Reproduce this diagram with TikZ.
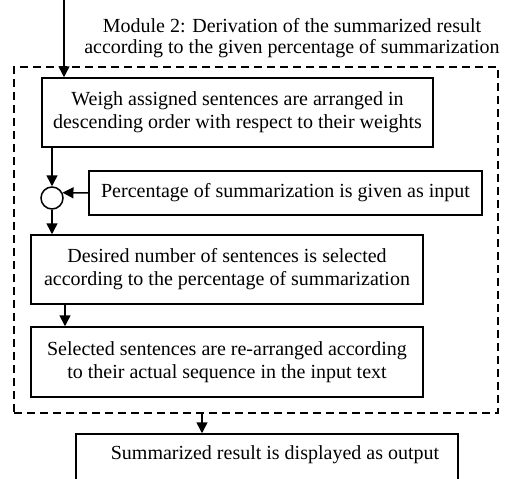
\documentclass[tikz,border=0pt]{standalone}
\usepackage{fontspec}
\setmainfont{Liberation Serif}
\usetikzlibrary{arrows.meta}

\tikzset{
  stepbox/.style={draw, line width=1.5pt, align=center, inner sep=0pt,
    font=\fontsize{20}{23}\selectfont},
  modframe/.style={draw, line width=1.3pt, dash pattern=on 8pt off 5pt, inner sep=0pt},
  joint/.style={draw, circle, line width=1.5pt, minimum size=22pt, inner sep=0pt},
}

\begin{document}
\begin{tikzpicture}[x=1pt, y=-1pt, >={Triangle[length=11pt, width=11pt]}, line width=1.5pt]
  \useasboundingbox (0,0) rectangle (506,479);
  \clip (0,0) rectangle (506,479);

  % module frame and its title
  \node[modframe, minimum width=484pt, minimum height=346pt] (mod) at (256,240) {};
  \node[align=center, font=\fontsize{20}{21}\selectfont] (title) at (292,38)
    {Module 2: Derivation of the summarized result\\according to the given percentage of summarization};

  % steps
  \node[stepbox, minimum width=391pt, minimum height=69pt] (weigh) at (237.5,112.5)
    {Weigh assigned sentences are arranged in\\descending order with respect to their weights};
  \node[joint] (circ) at (52,198) {};
  \node[stepbox, minimum width=393pt, minimum height=44pt] (perc) at (285.5,193)
    {Percentage of summarization is given as input};
  \node[stepbox, minimum width=392pt, minimum height=69pt] (select) at (227,269.5)
    {Desired number of sentences is selected\\according to the percentage of summarization};
  \node[stepbox, minimum width=392pt, minimum height=70pt] (rearr) at (227,362)
    {Selected sentences are re-arranged according\\to their actual sequence in the input text};
  \node[stepbox, minimum width=382pt, text height=22pt, text depth=30pt, inner ysep=3pt] (result) at (267,463)
    {\hspace*{16pt}Summarized result is displayed as output};

  \coordinate (in) at (64,0);
  \coordinate (modout) at (202,413);
  \coordinate (down) at (65,0);

  % connectors
  \draw[->] (in) -- (in |- weigh.north);
  \draw[->] (circ |- weigh.south) -- (circ.north);
  \draw[->] (perc.west) -- (circ.27);
  \draw[->] (circ.south) -- (circ |- select.north);
  \draw[->] (down |- select.south) -- (down |- rearr.north);
  \draw[->] (modout) -- (modout |- result.north);
\end{tikzpicture}
\end{document}
